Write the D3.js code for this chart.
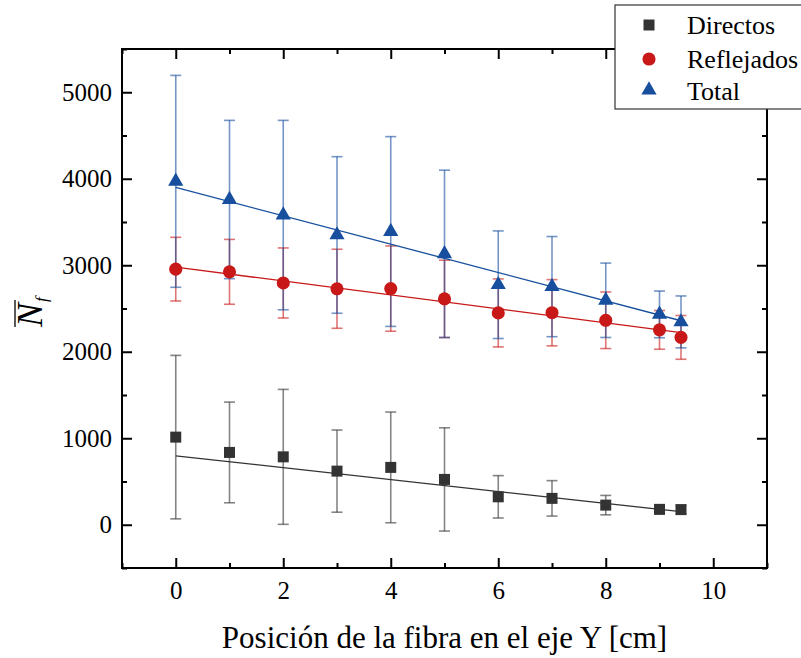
<!DOCTYPE html>
<html>
<head>
<meta charset="utf-8">
<script src="https://cdn.jsdelivr.net/npm/d3@7"></script>
<style>
  html, body { margin: 0; padding: 0; background: #fff; }
  svg { display: block; }
  text { font-family: "Liberation Serif", "Times New Roman", serif; fill: #000; }
</style>
</head>
<body>
<svg id="chart" width="801" height="658"></svg>
<script>
// Fiber positions along Y [cm]
const positions = [0, 1, 2, 3, 4, 5, 6, 7, 8, 9, 9.4];

// Mean photon counts and their uncertainties per series
const directos      = [1013, 836, 785, 620, 663, 524, 323, 305, 227, 178, 175];
const directosErr   = [945, 582, 780, 475, 640, 597, 245, 205, 112, 50, 50];
const reflejados    = [2955, 2924, 2795, 2728, 2730, 2611, 2449, 2451, 2364, 2253, 2166];
const reflejadosErr = [368, 375, 405, 457, 493, 447, 393, 383, 327, 224, 253];
const total         = [3970, 3760, 3580, 3350, 3390, 3132, 2775, 2753, 2595, 2432, 2345];
const totalErr      = [1225, 915, 1095, 905, 1097, 967, 622, 579, 430, 270, 300];

// Linear fits: [intercept, slope]
const fitDirectos   = [797, -68.75];
const fitReflejados = [2979, -80.6];
const fitTotal      = [3900, -164];
const fitRange      = [0, 9.4];

// Axis ticks
const xMajor = [0, 2, 4, 6, 8, 10];
const xMinor = [-1, 1, 3, 5, 7, 9, 11];
const yMajor = [0, 1000, 2000, 3000, 4000, 5000];
const yMinor = [-500, 500, 1500, 2500, 3500, 4500, 5500];

const seriesNames = ["Directos", "Reflejados", "Total"];

const svg = d3.select("#chart");
const L = 122, R = 767, T = 49, B = 568;

const x = d3.scaleLinear().domain([-1, 11]).range([L, R]);
const y = d3.scaleLinear().domain([-500, 5500]).range([B, T]);

const series = [
  { name: seriesNames[0], vals: directos, errs: directosErr, fit: fitDirectos,
    color: "#333333", barColor: "#333333", shape: d3.symbolSquare, size: 121 },
  { name: seriesNames[1], vals: reflejados, errs: reflejadosErr, fit: fitReflejados,
    color: "#c81818", barColor: "#c81818", shape: d3.symbolCircle, size: 135 },
  { name: seriesNames[2], vals: total, errs: totalErr, fit: fitTotal,
    color: "#174f9e", barColor: "#174f9e", shape: d3.symbolTriangle, size: 100 }
];

// Error bars (drawn first, beneath everything)
const capW = 11;
const gErr = svg.append("g");
series.forEach(s => {
  const g = gErr.append("g")
    .attr("stroke", s.barColor)
    .attr("stroke-opacity", 0.6)
    .attr("stroke-width", 1.6)
    .attr("fill", "none");
  positions.forEach((p, i) => {
    const cx = x(p), hi = y(s.vals[i] + s.errs[i]), lo = y(s.vals[i] - s.errs[i]);
    g.append("line").attr("x1", cx).attr("x2", cx).attr("y1", hi).attr("y2", lo);
    g.append("line").attr("x1", cx - capW / 2).attr("x2", cx + capW / 2).attr("y1", hi).attr("y2", hi);
    g.append("line").attr("x1", cx - capW / 2).attr("x2", cx + capW / 2).attr("y1", lo).attr("y2", lo);
  });
});

// Fit lines
const gFit = svg.append("g");
series.forEach(s => {
  const pts = fitRange.map(p => [p, s.fit[0] + s.fit[1] * p]);
  gFit.append("path")
    .attr("d", d3.line().x(d => x(d[0])).y(d => y(d[1]))(pts))
    .attr("stroke", s.color)
    .attr("stroke-width", 1.3)
    .attr("fill", "none");
});

// Markers
const gMark = svg.append("g");
series.forEach(s => {
  gMark.append("g").selectAll("path")
    .data(positions.map((p, i) => [p, s.vals[i]]))
    .join("path")
    .attr("transform", d => `translate(${x(d[0])},${y(d[1])})`)
    .attr("d", d3.symbol().type(s.shape).size(s.size))
    .attr("fill", s.color);
});

// Axes with inward ticks on all four sides
function styleAxis(g) {
  g.selectAll(".domain").remove();
  g.selectAll(".tick line").attr("stroke", "#000").attr("stroke-width", 2);
  g.selectAll(".tick text").attr("font-size", 25).attr("font-family", "Liberation Serif, serif").attr("fill", "#000");
}
const fmt = d3.format("d");

svg.append("g").attr("transform", `translate(0,${B})`)
  .call(d3.axisBottom(x).tickValues(xMajor).tickSize(-10).tickPadding(13).tickFormat(fmt))
  .call(styleAxis);
svg.append("g").attr("transform", `translate(0,${B})`)
  .call(d3.axisBottom(x).tickValues(xMinor).tickSize(-5).tickFormat(""))
  .call(styleAxis);
svg.append("g").attr("transform", `translate(0,${T})`)
  .call(d3.axisTop(x).tickValues(xMajor).tickSize(-10).tickFormat(""))
  .call(styleAxis);
svg.append("g").attr("transform", `translate(0,${T})`)
  .call(d3.axisTop(x).tickValues(xMinor).tickSize(-5).tickFormat(""))
  .call(styleAxis);

svg.append("g").attr("transform", `translate(${L},0)`)
  .call(d3.axisLeft(y).tickValues(yMajor).tickSize(-10).tickPadding(10).tickFormat(fmt))
  .call(styleAxis);
svg.append("g").attr("transform", `translate(${L},0)`)
  .call(d3.axisLeft(y).tickValues(yMinor).tickSize(-5).tickFormat(""))
  .call(styleAxis);
svg.append("g").attr("transform", `translate(${R},0)`)
  .call(d3.axisRight(y).tickValues(yMajor).tickSize(-10).tickFormat(""))
  .call(styleAxis);
svg.append("g").attr("transform", `translate(${R},0)`)
  .call(d3.axisRight(y).tickValues(yMinor).tickSize(-5).tickFormat(""))
  .call(styleAxis);

// Plot frame
svg.append("rect")
  .attr("x", L).attr("y", T).attr("width", R - L).attr("height", B - T)
  .attr("fill", "none").attr("stroke", "#000").attr("stroke-width", 2);

// X axis title
svg.append("text")
  .attr("x", (L + R) / 2).attr("y", 648)
  .attr("text-anchor", "middle")
  .attr("font-size", 31)
  .text("Posición de la fibra en el eje Y [cm]");

// Y axis title: N with overline and subscript f
const yt = svg.append("g").attr("transform", "translate(42,308) rotate(-90)");
const nText = yt.append("text")
  .attr("x", -19).attr("y", 0)
  .attr("font-size", 36).attr("font-style", "italic")
  .text("N");
const nb = nText.node().getBBox();
const nw = nText.node().getComputedTextLength();
yt.append("line")
  .attr("x1", -19).attr("x2", -19 + nw + 3)
  .attr("y1", -27).attr("y2", -27)
  .attr("stroke", "#000").attr("stroke-width", 1.3);
yt.append("text")
  .attr("x", -19 + nw + 1).attr("y", 5)
  .attr("font-size", 17).attr("font-style", "italic")
  .text("f");

// Legend
const lg = svg.append("g");
lg.append("rect")
  .attr("x", 615).attr("y", 5).attr("width", 200).attr("height", 104)
  .attr("fill", "#fff").attr("stroke", "#333").attr("stroke-width", 1.2);
const rowY = [25, 59, 90];
const baseY = [34, 68, 100];
series.forEach((s, i) => {
  lg.append("path")
    .attr("transform", `translate(649,${rowY[i]})`)
    .attr("d", d3.symbol().type(s.shape).size(s.size))
    .attr("fill", s.color);
  lg.append("text")
    .attr("x", 687).attr("y", baseY[i])
    .attr("font-size", 26)
    .text(s.name);
});
</script>
</body>
</html>
